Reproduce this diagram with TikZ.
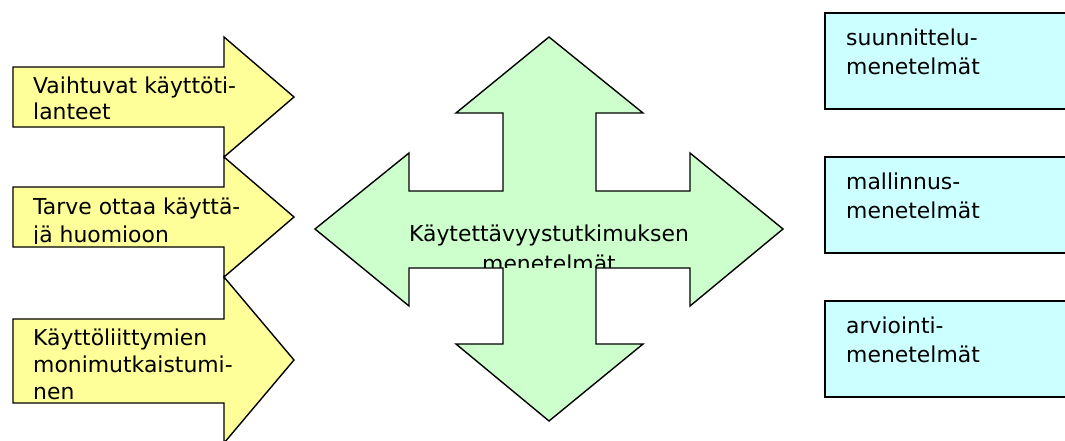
\documentclass[tikz,border=0pt]{standalone}
\usepackage{fontspec}
\setmainfont{DejaVu Sans}
\definecolor{ayellow}{HTML}{FFFF99}
\definecolor{agreen}{HTML}{CCFFCC}
\definecolor{acyan}{HTML}{CCFFFF}
\tikzset{
  shapeline/.style={draw=black, line width=1.4pt, line join=miter},
  yarrow/.style={shapeline, fill=ayellow},
  garrow/.style={shapeline, fill=agreen},
  cbox/.style={shapeline, fill=acyan},
  txt/.style={inner sep=0pt, anchor=base west, font=\fontsize{21.9}{26}\selectfont},
  ctxt/.style={inner sep=0pt, anchor=base, font=\fontsize{21.9}{26}\selectfont},
}
\begin{document}
\begin{tikzpicture}[x=1pt,y=-1pt]
\useasboundingbox (0,0) rectangle (1065,440);
\clip (0,0) rectangle (1065,440);
\fill[white] (0,0) rectangle (1065,440);

% left yellow arrows
\draw[yarrow] (13,67) -- (224,67) -- (224,37) -- (294,97) -- (224,157) -- (224,127) -- (13,127) -- cycle;
\draw[yarrow] (13,187) -- (224,187) -- (224,157) -- (294,217) -- (224,277) -- (224,247) -- (13,247) -- cycle;
\draw[yarrow] (13,319) -- (224,319) -- (224,277) -- (294,360) -- (224,443) -- (224,403) -- (13,403) -- cycle;

\node[txt] (a1l1) at (33,93) {Vaihtuvat käyttöti-};
\node[txt] (a1l2) at (33,119) {lanteet};
\begin{scope}
\clip (0,150) rectangle (300,243.5);
\node[txt] (a2l1) at (33,214) {Tarve ottaa käyttä-};
\node[txt] (a2l2) at (33,242) {jä huomioon};
\end{scope}
\begin{scope}
\clip (0,300) rectangle (300,400.5);
\node[txt] (a3l1) at (33,345) {Käyttöliittymien};
\node[txt] (a3l2) at (33,372) {monimutkaistumi-};
\node[txt] (a3l3) at (33,399.5) {nen};
\end{scope}

% central four-way arrow
\draw[garrow] (315,229) -- (409,153) -- (409,191) -- (503,191) -- (503,113) -- (456,113)
  -- (549,37) -- (643,113) -- (596,113) -- (596,191) -- (690,191) -- (690,153)
  -- (783,229) -- (690,306) -- (690,268) -- (596,268) -- (596,344) -- (643,344)
  -- (549,421) -- (456,344) -- (503,344) -- (503,268) -- (409,268) -- (409,306) -- cycle;
\begin{scope}
\clip (380,200) rectangle (720,267);
\node[ctxt] (cl1) at (549,241) {Käytettävyystutkimuksen};
\node[ctxt] (cl2) at (549,271) {menetelmät};
\end{scope}

% right boxes
\draw[cbox] (825,13) rectangle (1075,109);
\draw[cbox] (825,157) rectangle (1075,253);
\draw[cbox] (825,301) rectangle (1075,397);
\node[txt] (b1l1) at (846,45) {suunnittelu-};
\node[txt] (b1l2) at (846,74) {menetelmät};
\node[txt] (b2l1) at (846,189) {mallinnus-};
\node[txt] (b2l2) at (846,218) {menetelmät};
\node[txt] (b3l1) at (846,333) {arviointi-};
\node[txt] (b3l2) at (846,362) {menetelmät};
\end{tikzpicture}
\end{document}
